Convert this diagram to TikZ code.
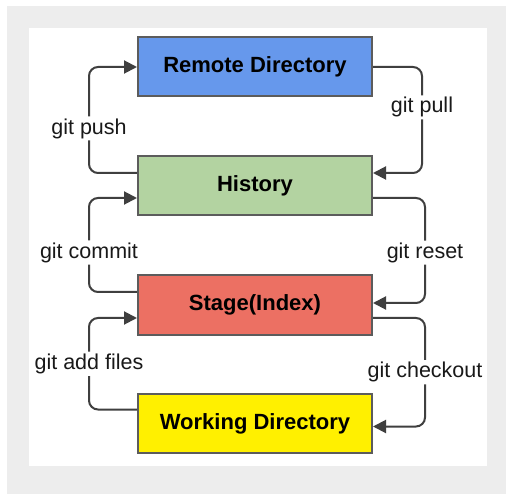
\documentclass[tikz,border=0pt]{standalone}
\usepackage{fontspec}
\setmainfont{Liberation Sans}
\usetikzlibrary{arrows.meta}

\definecolor{remoteblue}{HTML}{6698EC}
\definecolor{historygreen}{HTML}{B3D3A1}
\definecolor{stagered}{HTML}{EC7063}
\definecolor{workyellow}{HTML}{FFF000}
\definecolor{framegrey}{HTML}{EDEDED}
\definecolor{linegrey}{HTML}{3F3F3F}

\tikzset{
    area/.style={draw=linegrey!85, line width=2pt, minimum width=234pt, minimum height=59pt,
        font=\fontsize{22}{26}\selectfont\bfseries},
    flow/.style={draw=linegrey, line width=2pt, rounded corners=9pt,
        -{Triangle[length=13pt,width=13pt]}},
    cmd/.style={fill=white, inner sep=2pt, text=black!90, font=\fontsize{21.5}{26}\selectfont}
}

\begin{document}
\begin{tikzpicture}[x=1pt, y=1pt]
    % Page frame
    \useasboundingbox (0,0) rectangle (506,-494);
    \fill[white] (0,0) rectangle (506,-494);
    \fill[framegrey] (7,-6) rectangle (506,-494);
    \fill[white] (29,-28) rectangle (487,-466);

    % The four areas
    \node[area, fill=remoteblue] (remote) at (255,-67) {Remote Directory};
    \node[area, fill=historygreen] (history) at (255,-186) {History};
    \node[area, fill=stagered] (stage) at (255,-305) {Stage(Index)};
    \node[area, fill=workyellow] (work) at (255,-423.5) {Working Directory};

    % Left side: going up
    \draw[flow] ([yshift=13pt]history.west) -- ++(-48pt,0) |- node[cmd, pos=0.21] (push) {git push} (remote.west);
    \draw[flow] ([yshift=13pt]stage.west) -- ++(-48pt,0) |- node[cmd, pos=0.21] (commit) {git commit} ([yshift=-12pt]history.west);
    \draw[flow] ([yshift=14pt]work.west) -- ++(-48pt,0) |- node[cmd, pos=0.25] (add) {git add files} ([yshift=-13pt]stage.west);

    % Right side: going down
    \draw[flow] (remote.east) -- ++(49pt,0) |- node[cmd, pos=0.19] (pull) {git pull} ([yshift=13pt]history.east);
    \draw[flow] ([yshift=-12pt]history.east) -- ++(52pt,0) |- node[cmd, pos=0.26] (reset) {git reset} ([yshift=2pt]stage.east);
    \draw[flow] ([yshift=-13pt]stage.east) -- ++(52pt,0) |- node[cmd, pos=0.25] (checkout) {git checkout} ([yshift=-3pt]work.east);
\end{tikzpicture}
\end{document}
